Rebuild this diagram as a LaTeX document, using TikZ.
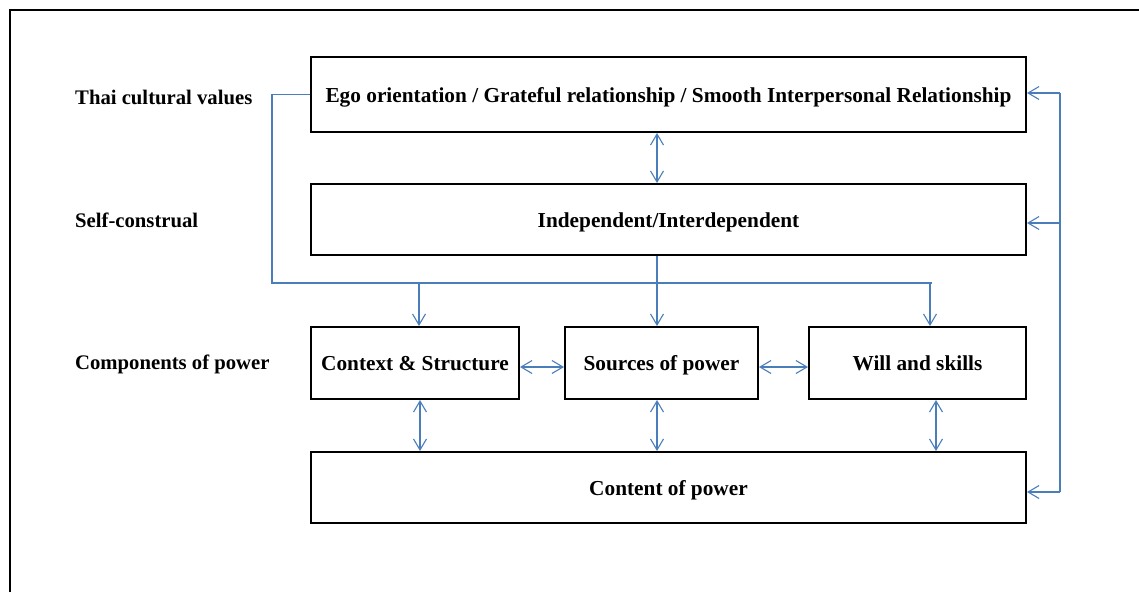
\documentclass[tikz,border=0pt]{standalone}
\usepackage{fontspec}
\setmainfont{Liberation Serif}
\usetikzlibrary{arrows.meta}
\definecolor{conblue}{RGB}{74,126,187}
\begin{document}
\begin{tikzpicture}[x=1pt,y=-1pt,
  box/.style={draw=black,line width=2pt,inner sep=0pt,text height=15.5pt,text depth=0pt,font=\fontsize{21.3}{24}\selectfont\bfseries,align=center},
  lbl/.style={anchor=west,inner sep=0pt,font=\fontsize{20.7}{24}\selectfont\bfseries},
  conn/.style={draw=conblue,line width=1.1pt},
  arr/.style={conn,-{Straight Barb[length=11pt,width=13pt]}},
  darr/.style={conn,{Straight Barb[length=11pt,width=13pt]}-{Straight Barb[length=11pt,width=13pt]}},
  frame/.style={draw=black,line width=2.6pt}]
\useasboundingbox (0,0) rectangle (1139,592);
\draw[frame] (10,592) -- (10,10) -- (1139,10);

\node[box,minimum width=715pt,minimum height=75pt] (ego) at (668.5,94.5) {Ego orientation / Grateful relationship / Smooth Interpersonal Relationship};
\node[box,minimum width=715pt,minimum height=71pt] (ind) at (668.5,219.5) {Independent/Interdependent};
\node[box,minimum width=208pt,minimum height=72pt] (ctx) at (415,363) {Context \& Structure};
\node[box,minimum width=193pt,minimum height=72pt] (src) at (661.5,363) {Sources of power};
\node[box,minimum width=217pt,minimum height=72pt] (will) at (917.5,363) {Will and skills};
\node[box,minimum width=715pt,minimum height=71pt] (cont) at (668.5,487.5) {Content of power};

\node[lbl] (l1) at (75,97) {Thai cultural values};
\node[lbl] (l2) at (75,220) {Self-construal};
\node[lbl] (l3) at (75,364) {Components of power};

% bus from cultural values
\coordinate (bl) at (272,283);
\coordinate (br) at (932,283);
\coordinate (b1) at (419,283);
\coordinate (b2) at (657,283);
\coordinate (b3) at (930,283);
\draw[conn] (ego.west) -| (bl) -- (br);
\draw[conn] (ind.south -| b2) -- (b2);
\draw[arr] (b1) -- (b1 |- ctx.north);
\draw[arr] (b2) -- (b2 |- src.north);
\draw[arr] (b3) -- (b3 |- will.north);

% ego <-> ind
\draw[darr] (ego.south -| b2) -- (ind.north -| b2);

% horizontal double arrows
\coordinate (h) at (0,367);
\draw[darr] (ctx.east |- h) -- (src.west |- h);
\draw[darr] (src.east |- h) -- (will.west |- h);

% vertical double arrows to content
\coordinate (v1) at (420,0);
\coordinate (v3) at (936,0);
\draw[darr] (ctx.south -| v1) -- (cont.north -| v1);
\draw[darr] (src.south -| b2) -- (cont.north -| b2);
\draw[darr] (will.south -| v3) -- (cont.north -| v3);

% right feedback line
\coordinate (r1) at (1060,93);
\coordinate (r2) at (1060,223);
\coordinate (r3) at (1060,492);
\draw[conn] (r1) -- (r3);
\draw[arr] (r1) -- (r1 -| ego.east);
\draw[arr] (r2) -- (r2 -| ind.east);
\draw[arr] (r3) -- (r3 -| cont.east);
\end{tikzpicture}
\end{document}
